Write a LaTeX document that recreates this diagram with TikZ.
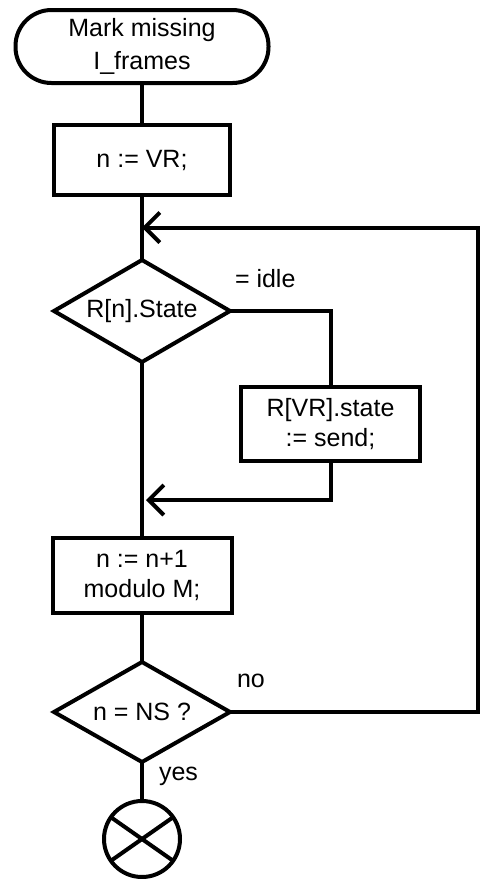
\documentclass[tikz,border=0pt]{standalone}
\usepackage{fontspec}
\setmainfont{Liberation Sans}
\usetikzlibrary{arrows.meta,positioning,shapes.geometric}

\begin{document}
\begin{tikzpicture}[
  x=1pt, y=1pt,
  font=\fontsize{12.5pt}{15pt}\selectfont,
  line width=2pt,
  term/.style={draw, rounded corners=18pt, align=center, outer sep=0pt,
               minimum width=126.5pt, minimum height=36.5pt, inner sep=0pt},
  proc/.style={draw, align=center, outer sep=0pt,
               minimum width=88pt, minimum height=35pt, inner sep=0pt},
  dec/.style={draw, diamond, aspect=1.75, outer sep=0pt,
              minimum width=88pt, minimum height=51pt, inner sep=0pt},
  endmark/.style={draw, circle, minimum size=38pt, inner sep=0pt, outer sep=0pt},
  lbl/.style={anchor=south west, inner sep=0pt},
  arr/.style={-{Straight Barb[length=7.5pt, width=15pt]}}
]
\useasboundingbox (0,0) rectangle (240.5,-439.5);

\node[term] (start) at (71,-23.25) {Mark missing\\[1.5pt]I\_frames};
\node[proc, below=21pt of start] (init) {n := VR;};
\node[dec, below=32.5pt of init] (state) {R[n].State};
\node[proc, minimum width=89.5pt, minimum height=37pt,
      below right=38pt and 5.5pt of state.east] (send) {R[VR].state\\:= send;};
\node[proc, minimum width=89.5pt, minimum height=37.5pt, below=88pt of state] (incr) {n := n+1\\modulo M;};
\node[dec, minimum height=50pt, below=24.5pt of incr] (test) {n = NS ?};
\node[endmark, below=19.5pt of test,
      path picture={\draw (path picture bounding box.center) ++(145:19pt) -- ++(-35:38pt);
                    \draw (path picture bounding box.center) ++(35:19pt) -- ++(-145:38pt);}] (done) {};

% main column
\draw (start) -- (init);
\path (init) -- coordinate[midway] (join) (state);
\draw (init) -- (state);
\draw (state) -- (incr);
\draw (incr) -- (test);
\draw (test) -- node[pos=0, anchor=north west, inner sep=0pt, xshift=7.5pt, yshift=-1.5pt] {yes} (done);

% idle branch
\draw (state.east) -- node[lbl, pos=0, xshift=1.5pt, yshift=10.5pt] {= idle}
      (state.east -| send.north) -- (send.north);
\coordinate[below=19.5pt of send] (back);
\draw[arr, shorten >=2pt] (send.south) |- (back -| state.south);

% loop back
\draw[arr] (test.east) -- node[lbl, pos=0, xshift=2.5pt, yshift=11pt] {no} ++(124,0) |- (join);
\end{tikzpicture}
\end{document}
